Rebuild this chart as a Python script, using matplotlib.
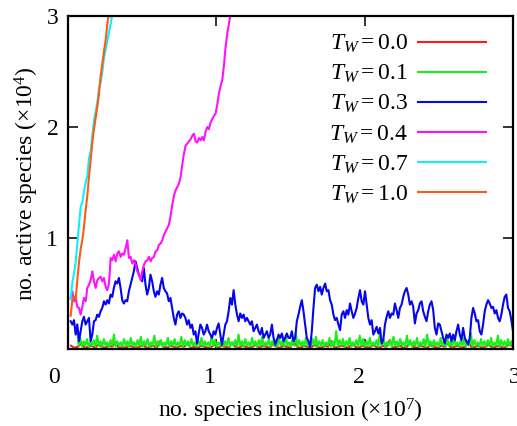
import numpy as np
import matplotlib.pyplot as plt
from matplotlib.transforms import ScaledTranslation

plt.rcParams['font.family'] = ['Liberation Serif', 'DejaVu Serif']
plt.rcParams['mathtext.fontset'] = 'custom'
plt.rcParams['mathtext.rm'] = 'Liberation Serif'
plt.rcParams['mathtext.it'] = 'Liberation Serif:italic'

# x in units of 1e7 inclusions, y in units of 1e4 active species

# T_W = 0.0
red_x = (0.02, 3.0)
red_y = [0.03, 0.01, 0.02, 0.05, 0.01, 0.02, 0.03, 0.01, 0.04, 0.02,
         0.01, 0.03, 0.02, 0.06, 0.01, 0.02, 0.01, 0.03, 0.02, 0.01,
         0.02, 0.04, 0.01, 0.02, 0.03, 0.01, 0.07, 0.02, 0.01, 0.03,
         0.02, 0.01, 0.03, 0.02, 0.05, 0.01, 0.02, 0.01, 0.03, 0.02,
         0.01, 0.02, 0.04, 0.01, 0.03, 0.02, 0.01, 0.06, 0.02, 0.01,
         0.03, 0.02, 0.01, 0.02, 0.04, 0.01, 0.03, 0.02, 0.01, 0.05,
         0.02, 0.01, 0.03, 0.02, 0.01, 0.08, 0.02, 0.01, 0.03, 0.02,
         0.01, 0.04, 0.02, 0.01, 0.03, 0.02, 0.07, 0.01, 0.02, 0.03,
         0.02, 0.01, 0.05, 0.02, 0.01, 0.03, 0.02, 0.01, 0.04, 0.02,
         0.01, 0.03, 0.02, 0.08, 0.01, 0.02, 0.03, 0.01, 0.02, 0.06,
         0.02, 0.01, 0.03, 0.02, 0.01, 0.04, 0.02, 0.01, 0.03, 0.02,
         0.05, 0.01, 0.02, 0.03, 0.01, 0.02, 0.07, 0.01, 0.02, 0.03,
         0.01, 0.02, 0.04, 0.01, 0.02, 0.03, 0.01, 0.02, 0.05, 0.02]

# T_W = 0.1
green_x = (0.06, 3.0)
green_y = [0.22, 0.03, 0.10, 0.02, 0.07, 0.03, 0.09, 0.02, 0.06, 0.03, 0.08, 0.02, 0.12, 0.03, 0.07, 0.02, 0.09, 0.03, 0.06, 0.02,
           0.08, 0.03, 0.13, 0.02, 0.07, 0.03, 0.06, 0.02, 0.09, 0.03, 0.07, 0.02, 0.10, 0.03, 0.06, 0.02, 0.08, 0.03, 0.11, 0.02,
           0.07, 0.03, 0.09, 0.02, 0.06, 0.03, 0.12, 0.02, 0.07, 0.03, 0.08, 0.02, 0.06, 0.03, 0.10, 0.02, 0.07, 0.03, 0.09, 0.02,
           0.06, 0.03, 0.11, 0.02, 0.08, 0.03, 0.07, 0.02, 0.09, 0.03, 0.06, 0.02, 0.08, 0.03, 0.10, 0.02, 0.07, 0.03, 0.06, 0.02,
           0.12, 0.03, 0.08, 0.02, 0.06, 0.03, 0.09, 0.02, 0.07, 0.03, 0.10, 0.02, 0.06, 0.03, 0.08, 0.02, 0.13, 0.03, 0.07, 0.02,
           0.09, 0.03, 0.06, 0.02, 0.10, 0.03, 0.07, 0.02, 0.08, 0.03, 0.11, 0.02, 0.06, 0.03, 0.09, 0.02, 0.07, 0.03, 0.08, 0.02,
           0.10, 0.03, 0.07, 0.02, 0.12, 0.03, 0.06, 0.02, 0.09, 0.03, 0.15, 0.02, 0.08, 0.03, 0.07, 0.02, 0.10, 0.03, 0.06, 0.02,
           0.09, 0.03, 0.11, 0.02, 0.07, 0.03, 0.08, 0.02, 0.06, 0.03, 0.10, 0.02, 0.07, 0.03, 0.16, 0.02, 0.08, 0.03, 0.09, 0.02,
           0.07, 0.03, 0.10, 0.02, 0.06, 0.03, 0.08, 0.02, 0.12, 0.03, 0.09, 0.02, 0.07, 0.03, 0.10, 0.02, 0.06, 0.03, 0.08, 0.02,
           0.17, 0.03, 0.09, 0.02, 0.06, 0.03, 0.08, 0.02, 0.11, 0.03, 0.07, 0.02, 0.09, 0.03, 0.06, 0.02, 0.12, 0.03, 0.08, 0.02,
           0.07, 0.03, 0.10, 0.02, 0.06, 0.03, 0.09, 0.02, 0.13, 0.03, 0.07, 0.02, 0.08, 0.03, 0.06, 0.02, 0.10, 0.03, 0.07, 0.02,
           0.09, 0.03, 0.07, 0.02, 0.11, 0.03, 0.06, 0.02, 0.08, 0.03, 0.10, 0.02, 0.07, 0.03, 0.14, 0.02, 0.08, 0.03, 0.06, 0.02,
           0.09, 0.03, 0.07, 0.02, 0.08, 0.03, 0.10, 0.02, 0.06, 0.03, 0.12, 0.02, 0.08, 0.03, 0.07, 0.02, 0.09, 0.03, 0.07, 0.03]

# T_W = 0.3
blue_x = (0.018, 3.0)
blue_y = [0.25, 0.22, 0.26, 0.13, 0.22, 0.07, 0.16, 0.25, 0.29, 0.22, 0.25, 0.28, 0.07, 0.13, 0.25, 0.26, 0.31, 0.29, 0.34, 0.37,
          0.43, 0.40, 0.44, 0.41, 0.49, 0.47, 0.55, 0.61, 0.59, 0.64, 0.55, 0.44, 0.41, 0.44, 0.43, 0.52, 0.58, 0.64, 0.70, 0.79,
          0.73, 0.67, 0.64, 0.61, 0.73, 0.58, 0.49, 0.55, 0.67, 0.61, 0.52, 0.47, 0.52, 0.49, 0.58, 0.64, 0.55, 0.52, 0.50, 0.43,
          0.46, 0.37, 0.28, 0.22, 0.31, 0.34, 0.28, 0.32, 0.31, 0.28, 0.22, 0.26, 0.19, 0.22, 0.13, 0.16, 0.05, 0.14, 0.22, 0.19,
          0.13, 0.16, 0.22, 0.16, 0.13, 0.10, 0.16, 0.13, 0.19, 0.23, 0.13, 0.04, 0.13, 0.22, 0.25, 0.34, 0.46, 0.40, 0.53, 0.40,
          0.31, 0.25, 0.32, 0.28, 0.31, 0.25, 0.28, 0.25, 0.22, 0.25, 0.16, 0.19, 0.22, 0.16, 0.13, 0.19, 0.10, 0.13, 0.16, 0.10,
          0.13, 0.22, 0.10, 0.04, 0.08, 0.13, 0.10, 0.14, 0.07, 0.10, 0.14, 0.10,
          0.10, 0.16, 0.07, 0.10, 0.25, 0.31, 0.38, 0.44, 0.34, 0.22, 0.10, 0.07, 0.02, 0.16, 0.37, 0.55, 0.58, 0.52, 0.56, 0.49,
          0.55, 0.59, 0.52, 0.53, 0.44, 0.40, 0.31, 0.26, 0.28, 0.22, 0.17, 0.31, 0.34, 0.28, 0.35, 0.31, 0.41, 0.34, 0.28, 0.32,
          0.37, 0.46, 0.53, 0.43, 0.40, 0.52, 0.40, 0.28, 0.22, 0.26, 0.13, 0.16, 0.20, 0.14, 0.19, 0.05, 0.08, 0.22, 0.29, 0.34,
          0.28, 0.32, 0.31, 0.41, 0.35, 0.28, 0.37, 0.40, 0.47, 0.52, 0.55, 0.49, 0.40, 0.43, 0.38, 0.23, 0.32, 0.35, 0.41, 0.43,
          0.34, 0.29, 0.25, 0.34, 0.40, 0.43, 0.35, 0.19, 0.13, 0.23, 0.22, 0.16, 0.10, 0.05, 0.13, 0.10, 0.14, 0.07, 0.13, 0.08,
          0.16, 0.22, 0.13, 0.08, 0.19, 0.10, 0.07, 0.04, 0.10, 0.28, 0.37, 0.32, 0.25, 0.26, 0.16, 0.13, 0.22, 0.34, 0.40, 0.44,
          0.41, 0.37, 0.38, 0.32, 0.35, 0.28, 0.25, 0.31, 0.40, 0.47, 0.49, 0.37, 0.34, 0.26, 0.16]

# T_W = 0.4
magenta_x = (0.018, 1.096)
magenta_y = [0.46, 0.52, 0.43, 0.46, 0.38, 0.37, 0.31, 0.38, 0.46, 0.43, 0.55, 0.58, 0.62, 0.70, 0.61, 0.55, 0.62, 0.64, 0.65, 0.61,
             0.64, 0.56, 0.53, 0.59, 0.82, 0.80, 0.85, 0.79, 0.86, 0.88, 0.83, 0.86, 0.85, 0.91, 0.98, 0.82, 0.83, 0.77, 0.80, 0.76,
             0.70, 0.67, 0.62, 0.70, 0.76, 0.79, 0.80, 0.83, 0.79, 0.82, 0.83, 0.88, 0.89, 0.94, 0.95, 0.98, 1.03, 1.06, 1.09, 1.12,
             1.20, 1.30, 1.38, 1.43, 1.46, 1.49, 1.55, 1.66, 1.76, 1.83, 1.85, 1.87, 1.89, 1.92, 1.94, 1.87, 1.86, 1.90, 1.88, 1.91,
             1.88, 1.96, 2.00, 1.98, 2.04, 2.07, 2.10, 2.12, 2.20, 2.30, 2.37, 2.42, 2.55, 2.72, 2.84, 2.93, 3.02]

# T_W = 0.7
cyan_x = (0.018, 0.299)
cyan_y = [0.45, 0.60, 0.68, 0.78, 0.95, 1.12, 1.28, 1.32, 1.42, 1.50, 1.56, 1.72, 1.78,
          1.92, 2.06, 2.14, 2.22, 2.35, 2.40, 2.50, 2.62, 2.70, 2.78, 2.85, 2.93, 3.02]

# T_W = 1.0
orange_x = (0.018, 0.276)
orange_y = [0.30, 0.44, 0.47, 0.45, 0.62, 0.78, 0.90, 0.98, 1.10, 1.25, 1.38, 1.55,
            1.70, 1.86, 1.98, 2.08, 2.18, 2.30, 2.46, 2.57, 2.68, 2.78, 2.92, 3.03]

series = [('0.0', red_x, red_y, '#ff1a1a'),
          ('0.1', green_x, green_y, '#1aee1a'),
          ('0.3', blue_x, blue_y, '#0505ee'),
          ('0.4', magenta_x, magenta_y, '#ff10ff'),
          ('0.7', cyan_x, cyan_y, '#10f0f0'),
          ('1.0', orange_x, orange_y, '#ff5a14')]

fig = plt.figure(figsize=(5.17, 4.26), dpi=100)
ax = fig.add_axes([68/517, 77/426, 445/517, 333/426])

for tw, (x0, x1), y, col in series:
    x = np.linspace(x0, x1, len(y))
    ax.plot(x, y, color=col, lw=1.5, label=r'$T_W = %s$' % tw)

ax.set_xlim(0, 3)
ax.set_ylim(0, 3)
ax.set_xticks([0, 1, 2, 3])
ax.set_yticks([1, 2, 3])
ax.tick_params(direction='in', length=7, width=1.3, top=True, right=True,
               labelsize=17, color='#222222')
ax.tick_params(axis='x', pad=13)
ax.tick_params(axis='y', pad=7)
for sp in ax.spines.values():
    sp.set_linewidth(1.6)

# labels in the original sit a bit left of their ticks
shifts = [-14, -6, -6, 2]
for lab, dx in zip(ax.get_xticklabels(), shifts):
    lab.set_transform(lab.get_transform() + ScaledTranslation(dx/100, 0, fig.dpi_scale_trans))

fig.text(290/517, 1 - 411/426, r'no. species inclusion ($\times 10^7$)',
         ha='center', va='center', fontsize=17)
fig.text(27/517, 1 - 184/426, r'no. active species ($\times 10^4$)',
         ha='center', va='center', rotation=90, fontsize=17)

ax.legend(loc='upper right', bbox_to_anchor=(486/517, 1 - 33/426),
          bbox_transform=fig.transFigure, frameon=False, markerfirst=False,
          fontsize=17, handlelength=2.9, handletextpad=0.4, labelspacing=0.33,
          borderpad=0, borderaxespad=0)

fig.savefig('out.png', dpi=100)
